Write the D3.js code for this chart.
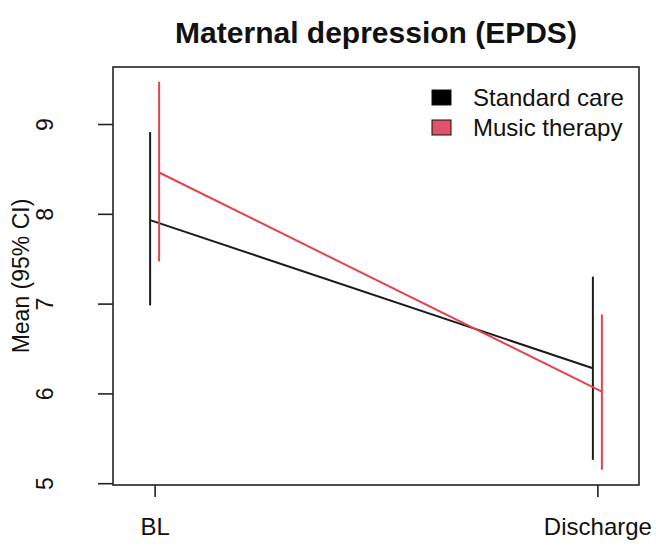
<!DOCTYPE html>
<html>
<head>
<meta charset="utf-8">
<script src="https://cdn.jsdelivr.net/npm/d3@7"></script>
<style>
  body { margin: 0; background: #fff; }
  text { font-family: "Liberation Sans", Arial, sans-serif; fill: #111; }
</style>
</head>
<body>
<script>
    let timepoints = ["BL", "Discharge"];
    let groups = ["Standard care", "Music therapy"];
    let groupColors = ["#1a1a1a", "#e3434d"];
    let swatchColors = ["#000000", "#df536b"];
    // mean, lower and upper 95% CI, per group, per timepoint
    let standardMean = [7.93, 6.28];
    let standardLow = [6.98, 5.26];
    let standardHigh = [8.91, 7.30];
    let musicMean = [8.46, 6.02];
    let musicLow = [7.47, 5.15];
    let musicHigh = [9.47, 6.88];
    let yTicks = [5, 6, 7, 8, 9];

    let width = 656, height = 546;
    let box = {"left": 113, "right": 639, "top": 67, "bottom": 485};
    let dodge = 4.5;

    const svg = d3.select("body")
      .append("svg")
      .attr("width", width)
      .attr("height", height);

    let xscale = d3.scalePoint()
      .domain(timepoints)
      .range([box.left, box.right])
      .padding(0.094);

    let yscale = d3.scaleLinear()
      .domain([4.98, 9.635])
      .range([box.bottom, box.top]);

    let series = [
      {"name": groups[0], "mean": standardMean, "low": standardLow, "high": standardHigh, "shift": -dodge, "color": groupColors[0]},
      {"name": groups[1], "mean": musicMean, "low": musicLow, "high": musicHigh, "shift": dodge, "color": groupColors[1]}
    ];

    // title
    svg.append("text")
      .text("Maternal depression (EPDS)")
      .attr("x", (box.left + box.right) / 2)
      .attr("y", 43)
      .attr("text-anchor", "middle")
      .style("font-size", "30px")
      .style("font-weight", "bold");

    // CI bars and mean lines
    series.forEach((s) => {
      let g = svg.append("g");
      let line = d3.line()
        .x((d, i) => xscale(timepoints[i]) + s.shift)
        .y((d) => yscale(d));
      g.append("path")
        .datum(s.mean)
        .attr("d", line)
        .attr("fill", "none")
        .attr("stroke", s.color)
        .attr("stroke-width", 2);
      g.selectAll("line")
        .data(timepoints)
        .enter()
        .append("line")
        .attr("x1", (d) => xscale(d) + s.shift)
        .attr("x2", (d) => xscale(d) + s.shift)
        .attr("y1", (d, i) => yscale(s.low[i]))
        .attr("y2", (d, i) => yscale(s.high[i]))
        .attr("stroke", s.color)
        .attr("stroke-width", 2);
    });

    // box
    svg.append("rect")
      .attr("x", box.left)
      .attr("y", box.top)
      .attr("width", box.right - box.left)
      .attr("height", box.bottom - box.top)
      .attr("fill", "none")
      .attr("stroke", "#222")
      .attr("stroke-width", 1.6);

    // y axis
    let y_axis = d3.axisLeft()
      .scale(yscale)
      .tickValues(yTicks)
      .tickSize(15)
      .tickPadding(0)
      .tickFormat(d3.format("d"));

    let yAxisG = svg.append("g")
      .attr("transform", "translate(" + box.left + ",0)")
      .call(y_axis);
    yAxisG.select(".domain").remove();
    yAxisG.selectAll(".tick line").attr("stroke", "#222").attr("stroke-width", 1.6);
    yAxisG.selectAll(".tick text")
      .attr("x", 0)
      .attr("text-anchor", "middle")
      .attr("transform", "translate(-60,0) rotate(-90)")
      .attr("dy", "0em")
      .attr("fill", "#111")
      .style("font-size", "23px")
      .style("font-family", "Liberation Sans, Arial, sans-serif");

    svg.append("text")
      .text("Mean (95% CI)")
      .attr("text-anchor", "middle")
      .attr("transform", "translate(29," + (box.top + box.bottom) / 2 + ") rotate(-90)")
      .style("font-size", "23px");

    // x axis
    let x_axis = d3.axisBottom()
      .scale(xscale)
      .tickSize(12)
      .tickPadding(21);

    let xAxisG = svg.append("g")
      .attr("transform", "translate(0," + box.bottom + ")")
      .call(x_axis);
    xAxisG.select(".domain").remove();
    xAxisG.selectAll(".tick line").attr("stroke", "#222").attr("stroke-width", 1.6);
    xAxisG.selectAll(".tick text")
      .attr("fill", "#111")
      .style("font-size", "24px")
      .style("font-family", "Liberation Sans, Arial, sans-serif");

    // legend
    let legend = svg.append("g")
      .attr("transform", "translate(432,90)");
    let rows = legend.selectAll("g")
      .data(groups)
      .enter()
      .append("g")
      .attr("transform", (d, i) => "translate(0," + i * 30 + ")");
    rows.append("rect")
      .attr("x", 0)
      .attr("y", 0)
      .attr("width", 19)
      .attr("height", 15)
      .attr("fill", (d, i) => swatchColors[i])
      .attr("stroke", "#111")
      .attr("stroke-width", 1);
    rows.append("text")
      .text((d) => d)
      .attr("x", 41)
      .attr("y", 8)
      .attr("dy", "0.35em")
      .style("font-size", "24px");
</script>
</body>
</html>
